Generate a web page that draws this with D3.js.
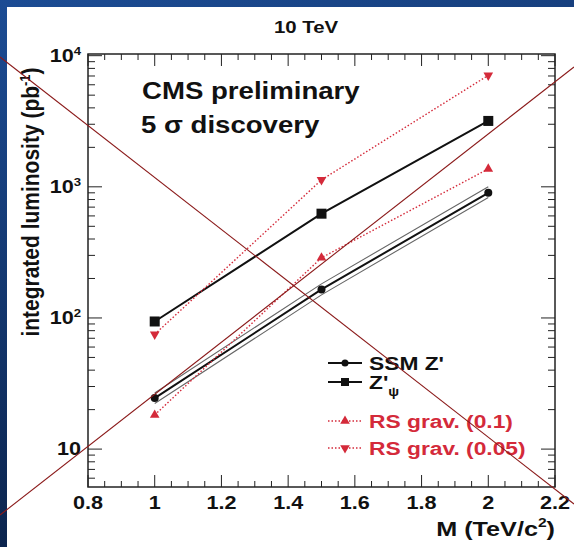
<!DOCTYPE html>
<html><head><meta charset="utf-8">
<script src="https://cdn.jsdelivr.net/npm/d3@7"></script>
<style>body{margin:0;padding:0;overflow:hidden}svg{display:block}text{font-family:"Liberation Sans",Arial,sans-serif;font-weight:bold}</style>
</head><body>
<script>
const masses = [1, 1.5, 2];
const ssm = [24.5, 165, 900];
const ssmUpper = [26.8, 182, 1000];
const ssmLower = [22.3, 150, 830];
const zpsi = [94, 624, 3180];
const rs01 = [18.2, 288, 1370];
const rs005 = [75, 1130, 7080];
const xTicks = [0.8, 1, 1.2, 1.4, 1.6, 1.8, 2, 2.2];
const yTickLabels = [["10",""],["10","2"],["10","3"],["10","4"]];
const yTickValues = [10, 100, 1000, 10000];
const legendLabels = ["SSM Z'", "Z'", "RS grav. (0.1)", "RS grav. (0.05)"];

const W = 574, H = 547, SX = 1.2;
const svg = d3.select("body").append("svg").attr("width", W).attr("height", H);
const defs = svg.append("defs");
const grad = defs.append("linearGradient").attr("id","bg").attr("x1","0").attr("y1","0").attr("x2","0.3").attr("y2","1");
grad.append("stop").attr("offset","0").attr("stop-color","#1c4c94");
grad.append("stop").attr("offset","1").attr("stop-color","#0a2148");
svg.append("rect").attr("width",W).attr("height",H).attr("fill","url(#bg)");
svg.append("rect").attr("x",7).attr("y",7).attr("width",W-7).attr("height",H-7).attr("fill","#fff");

function txt(parent, px, py, size, anchor, fill) {
  return parent.append("text").attr("transform", `translate(${px},${py}) scale(${SX},1)`)
    .attr("text-anchor", anchor).attr("font-size", size).attr("fill", fill || "#111");
}

const L = 88, R = 555, T = 54, B = 487;
const x = d3.scaleLinear().domain([0.8, 2.2]).range([L, R]);
const y = d3.scaleLog().domain([5.14, 10300]).range([B, T]);
const red = "#d42a3a";

// ticks
const g = svg.append("g");
const tickColor = "#222";
const xMinor = d3.range(0.8, 2.2001, 0.05);
xMinor.forEach(v => {
  const major = Math.abs(Math.round(v*5) - v*5) < 1e-6;
  const len = major ? 12 : 6;
  g.append("line").attr("x1", x(v)).attr("x2", x(v)).attr("y1", B).attr("y2", B-len).attr("stroke", tickColor).attr("stroke-width",1);
  g.append("line").attr("x1", x(v)).attr("x2", x(v)).attr("y1", T).attr("y2", T+len).attr("stroke", tickColor).attr("stroke-width",1);
});
const yAll = [];
[1,10,100,1000].forEach(d => { for (let k=1;k<10;k++){ const v=d*k; if(v>=5.14 && v<=10300) yAll.push(v);} });
yAll.push(10000);
yAll.forEach(v => {
  const major = yTickValues.includes(v);
  const len = major ? 14 : 7;
  g.append("line").attr("x1", L).attr("x2", L+len).attr("y1", y(v)).attr("y2", y(v)).attr("stroke", tickColor).attr("stroke-width",1);
  g.append("line").attr("x1", R).attr("x2", R-len).attr("y1", y(v)).attr("y2", y(v)).attr("stroke", tickColor).attr("stroke-width",1);
});
svg.append("rect").attr("x",L).attr("y",T).attr("width",R-L).attr("height",B-T).attr("fill","none").attr("stroke","#222").attr("stroke-width",1.5);

// axis labels
xTicks.forEach(v => { txt(svg, x(v), 509, 18, "middle").text(v); });
yTickValues.forEach((v,i) => {
  const t = txt(svg, 81, y(v)+6, 18, "end");
  t.append("tspan").text(yTickLabels[i][0]);
  if (yTickLabels[i][1]) t.append("tspan").attr("dy",-7).attr("font-size",11).text(yTickLabels[i][1]);
});
txt(svg, 306, 33, 17, "middle").text("10 TeV");
const xl = txt(svg, 555, 536, 21, "end");
xl.append("tspan").text("M (TeV/c");
xl.append("tspan").attr("dy",-9).attr("font-size",13).text("2");
xl.append("tspan").attr("dy",9).text(")");
const yl = svg.append("text").attr("transform","translate(39,202) rotate(-90) scale(1,1.15)").attr("text-anchor","middle").attr("font-size",21).attr("fill","#111");
yl.append("tspan").text("integrated luminosity (pb");
yl.append("tspan").attr("dy",-8).attr("font-size",13).text("-1");
yl.append("tspan").attr("dy",8).text(")");
txt(svg,142,99,23,"start").text("CMS preliminary");
txt(svg,141,133,23,"start").text("5 σ discovery");

// data lines
const line = d3.line().x((d,i) => x(masses[i])).y(d => y(d));
svg.append("path").attr("d", line(ssmUpper)).attr("fill","none").attr("stroke","#666").attr("stroke-width",1.1);
svg.append("path").attr("d", line(ssmLower)).attr("fill","none").attr("stroke","#666").attr("stroke-width",1.1);
svg.append("path").attr("d", line(ssm)).attr("fill","none").attr("stroke","#111").attr("stroke-width",2);
svg.append("path").attr("d", line(zpsi)).attr("fill","none").attr("stroke","#111").attr("stroke-width",2);
svg.append("path").attr("d", line(rs01)).attr("fill","none").attr("stroke",red).attr("stroke-width",1.4).attr("stroke-dasharray","1.5,2");
svg.append("path").attr("d", line(rs005)).attr("fill","none").attr("stroke",red).attr("stroke-width",1.4).attr("stroke-dasharray","1.5,2");
const tri = d3.symbol().type(d3.symbolTriangle).size(40);
ssm.forEach((v,i)=> svg.append("circle").attr("cx",x(masses[i])).attr("cy",y(v)).attr("r",4).attr("fill","#111"));
zpsi.forEach((v,i)=> svg.append("rect").attr("x",x(masses[i])-5).attr("y",y(v)-5).attr("width",10).attr("height",10).attr("fill","#111"));
rs01.forEach((v,i)=> svg.append("path").attr("d",tri()).attr("transform",`translate(${x(masses[i])},${y(v)})`).attr("fill",red));
rs005.forEach((v,i)=> svg.append("path").attr("d",tri()).attr("transform",`translate(${x(masses[i])},${y(v)}) rotate(180)`).attr("fill",red));

// legend
const legY = [363, 382, 421, 448];
const lg = svg.append("g");
legY.forEach((ly,i) => {
  const isRed = i>=2;
  lg.append("line").attr("x1",328).attr("x2",362).attr("y1",ly).attr("y2",ly).attr("stroke", isRed?red:"#111").attr("stroke-width", isRed?1.4:2).attr("stroke-dasharray", isRed?"1.5,2":null);
  if (i===0) lg.append("circle").attr("cx",345).attr("cy",ly).attr("r",3.5).attr("fill","#111");
  if (i===1) lg.append("rect").attr("x",341).attr("y",ly-4).attr("width",8).attr("height",8).attr("fill","#111");
  if (i===2) lg.append("path").attr("d",tri()).attr("transform",`translate(345,${ly})`).attr("fill",red);
  if (i===3) lg.append("path").attr("d",tri()).attr("transform",`translate(345,${ly}) rotate(180)`).attr("fill",red);
  const t = txt(lg, 369, ly+7, 19, "start", isRed?red:"#111").text(legendLabels[i]);
  if (i===1) t.append("tspan").attr("dy",7).attr("font-size",12).text("ψ");
});

// cross-out lines
svg.append("line").attr("x1",0).attr("y1",57).attr("x2",574).attr("y2",504).attr("stroke","#8b1a1a").attr("stroke-width",1.1);
svg.append("line").attr("x1",0).attr("y1",515).attr("x2",574).attr("y2",67).attr("stroke","#8b1a1a").attr("stroke-width",1.1);
</script>
</body></html>
